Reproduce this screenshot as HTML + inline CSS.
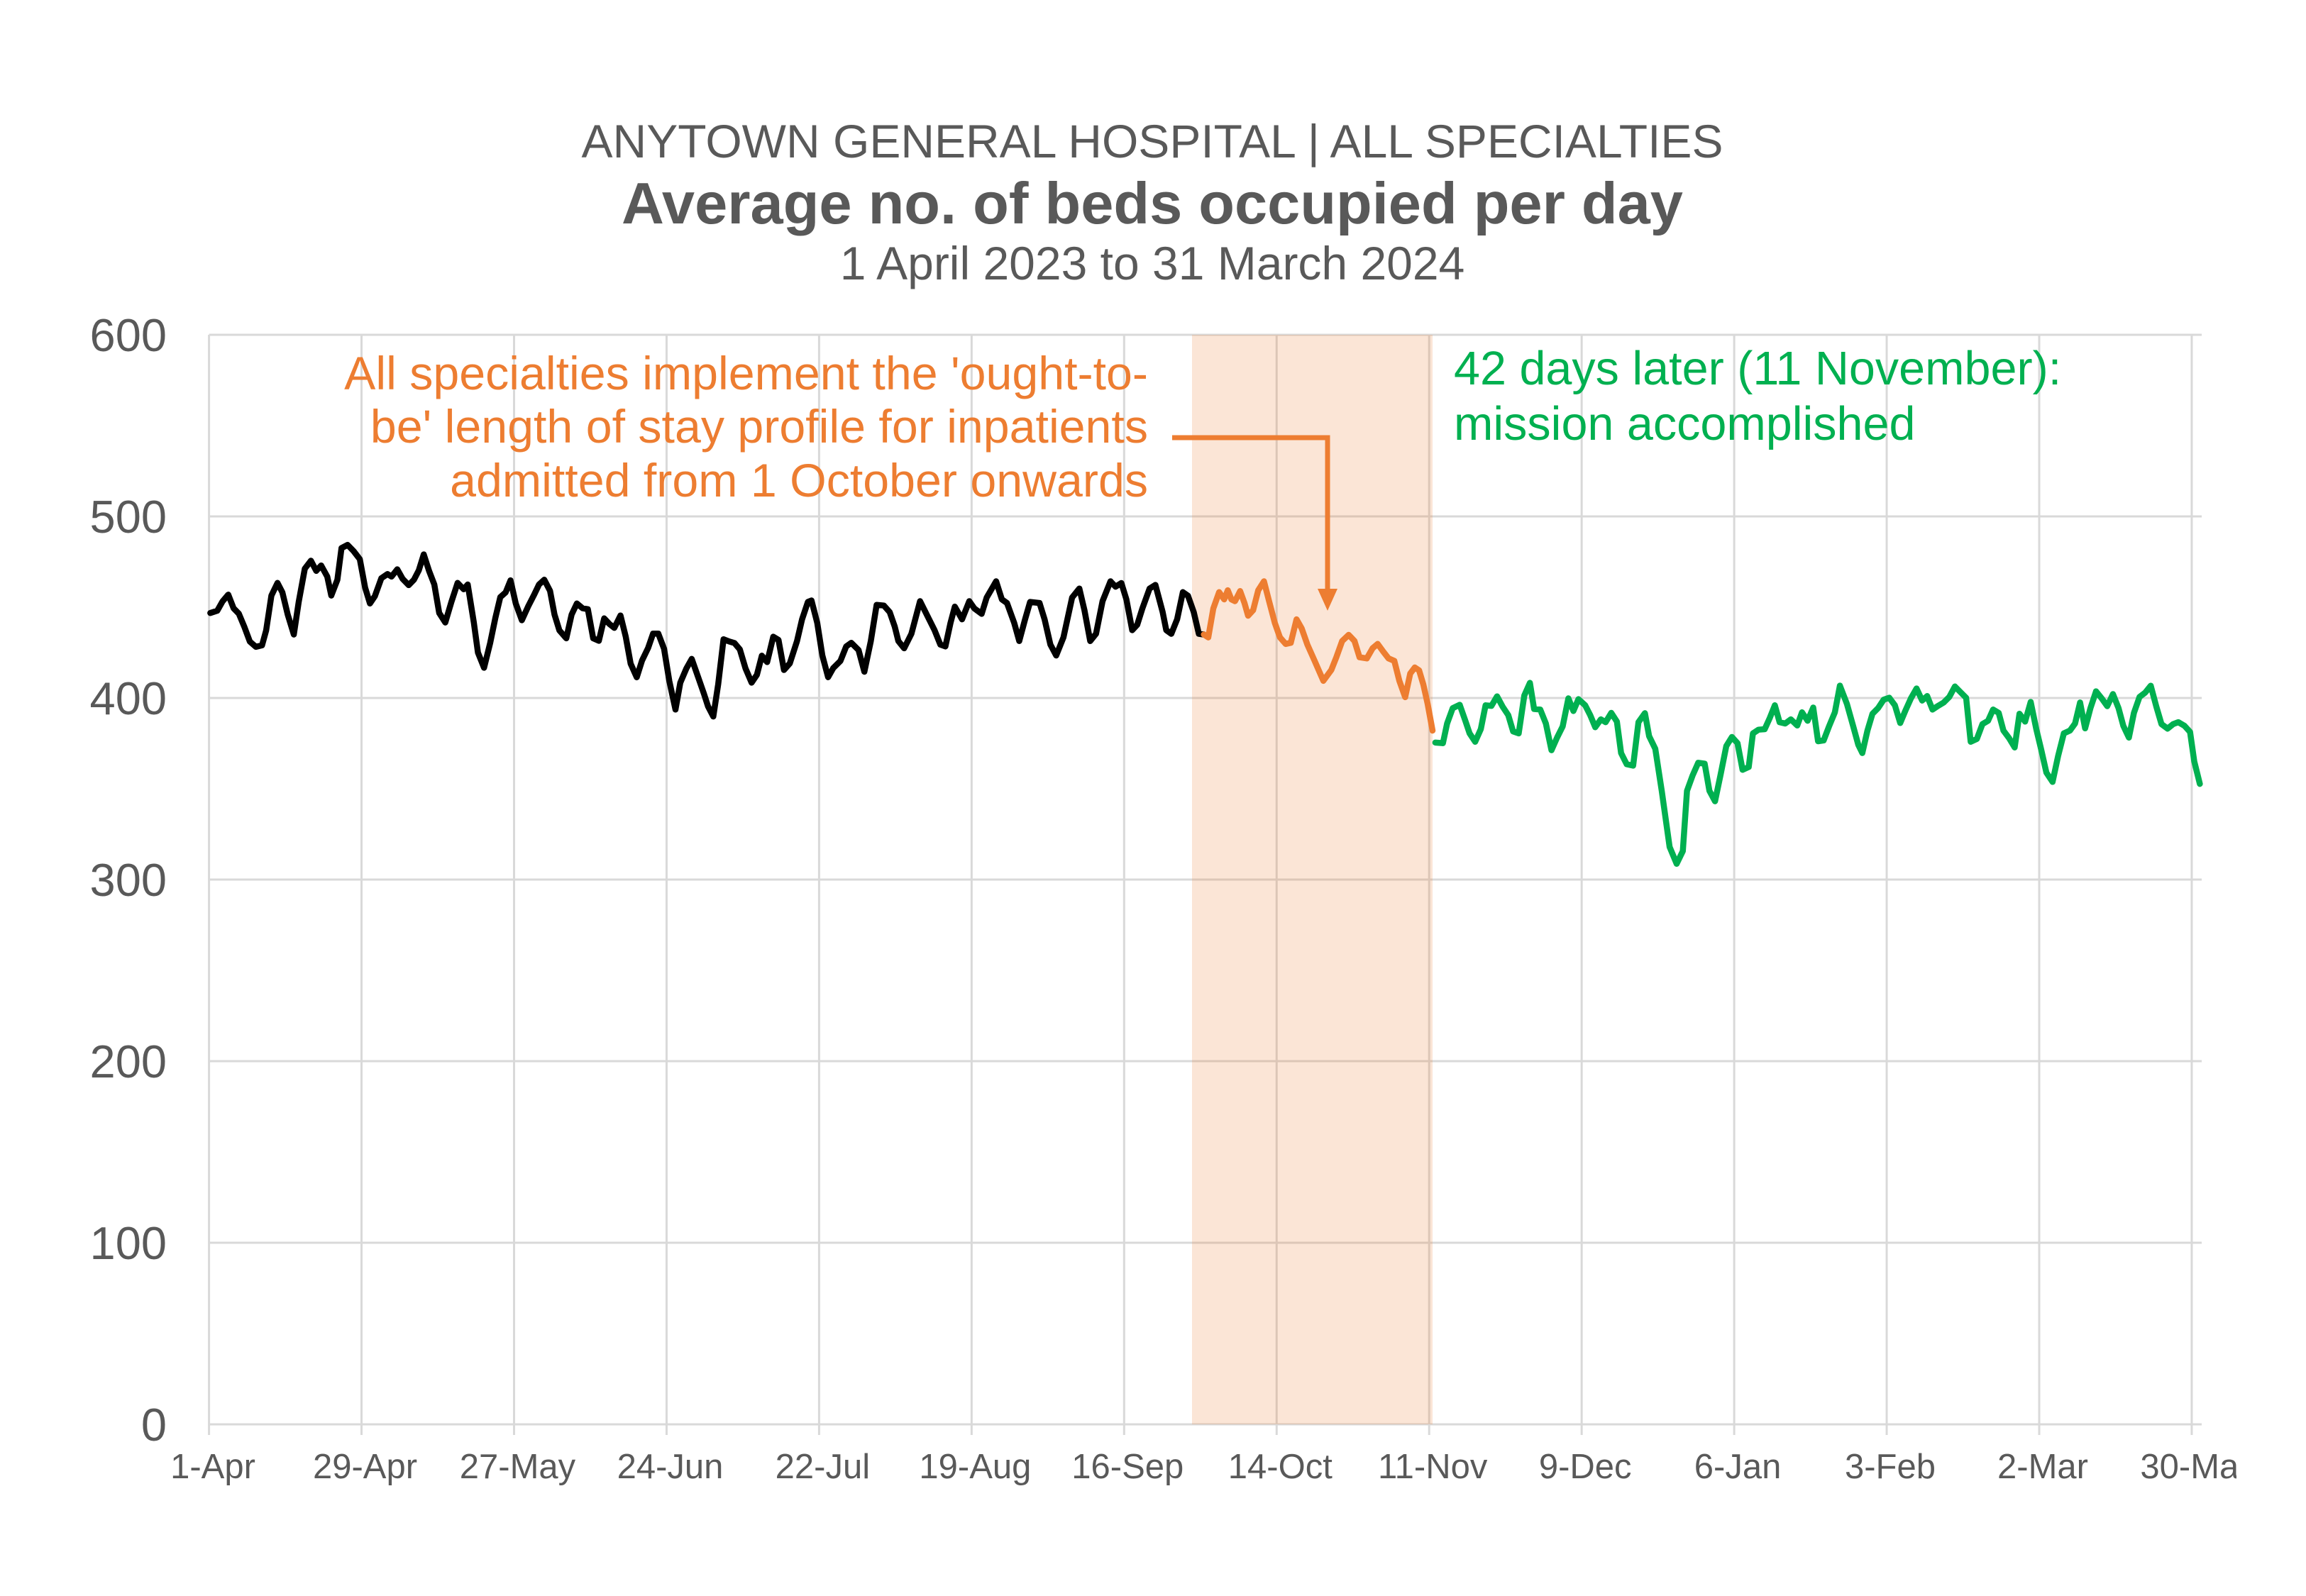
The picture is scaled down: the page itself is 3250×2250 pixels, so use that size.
<!DOCTYPE html>
<html>
<head>
<meta charset="utf-8">
<style>
html,body{margin:0;padding:0;background:#fff;}
svg{display:block;}
text{font-family:"Liberation Sans",Arial,sans-serif;}
</style>
</head>
<body>
<svg width="3250" height="2250" viewBox="0 0 3250 2250" xmlns="http://www.w3.org/2000/svg">
<defs>
<clipPath id="clipR"><rect x="0" y="0" width="3152" height="2250"/></clipPath>
</defs>
<rect width="3250" height="2250" fill="#fff"/>

<!-- Titles -->
<text x="1624" y="222" font-size="66" fill="#595959" text-anchor="middle">ANYTOWN GENERAL HOSPITAL | ALL SPECIALTIES</text>
<text x="1624" y="315" font-size="83" font-weight="bold" fill="#595959" text-anchor="middle">Average no. of beds occupied per day</text>
<text x="1624" y="394" font-size="66" fill="#595959" text-anchor="middle">1 April 2023 to 31 March 2024</text>

<!-- Horizontal gridlines -->
<g stroke="#d9d9d9" stroke-width="3">
<line x1="294.6" y1="472" x2="3103" y2="472"/>
<line x1="294.6" y1="728" x2="3103" y2="728"/>
<line x1="294.6" y1="984" x2="3103" y2="984"/>
<line x1="294.6" y1="1240" x2="3103" y2="1240"/>
<line x1="294.6" y1="1496" x2="3103" y2="1496"/>
<line x1="294.6" y1="1752" x2="3103" y2="1752"/>
<line x1="294.6" y1="2008" x2="3103" y2="2008"/>
</g>
<!-- Vertical gridlines -->
<g stroke="#d9d9d9" stroke-width="3">
<line x1="294.6" y1="472" x2="294.6" y2="2023"/>
<line x1="509.55" y1="472" x2="509.55" y2="2023"/>
<line x1="724.5" y1="472" x2="724.5" y2="2023"/>
<line x1="939.45" y1="472" x2="939.45" y2="2023"/>
<line x1="1154.4" y1="472" x2="1154.4" y2="2023"/>
<line x1="1369.35" y1="472" x2="1369.35" y2="2023"/>
<line x1="1584.3" y1="472" x2="1584.3" y2="2023"/>
<line x1="1799.25" y1="472" x2="1799.25" y2="2023"/>
<line x1="2014.2" y1="472" x2="2014.2" y2="2023"/>
<line x1="2229.15" y1="472" x2="2229.15" y2="2023"/>
<line x1="2444.1" y1="472" x2="2444.1" y2="2023"/>
<line x1="2659.05" y1="472" x2="2659.05" y2="2023"/>
<line x1="2874" y1="472" x2="2874" y2="2023"/>
<line x1="3088.95" y1="472" x2="3088.95" y2="2023"/>
</g>

<!-- Shaded band -->
<rect x="1680" y="472" width="339" height="1536" fill="#ED7D31" fill-opacity="0.2"/>

<!-- Y axis labels -->
<g font-size="65" fill="#595959" text-anchor="end">
<text x="235" y="495">600</text>
<text x="235" y="751">500</text>
<text x="235" y="1007">400</text>
<text x="235" y="1263">300</text>
<text x="235" y="1519">200</text>
<text x="235" y="1775">100</text>
<text x="235" y="2031">0</text>
</g>

<!-- X axis labels -->
<g font-size="49" fill="#595959" text-anchor="middle" clip-path="url(#clipR)">
<text x="300" y="2084">1-Apr</text>
<text x="514.5" y="2084">29-Apr</text>
<text x="729.5" y="2084">27-May</text>
<text x="944.5" y="2084">24-Jun</text>
<text x="1159.4" y="2084">22-Jul</text>
<text x="1374.4" y="2084">19-Aug</text>
<text x="1589.3" y="2084">16-Sep</text>
<text x="1804.3" y="2084">14-Oct</text>
<text x="2019.2" y="2084">11-Nov</text>
<text x="2234.2" y="2084">9-Dec</text>
<text x="2449.1" y="2084">6-Jan</text>
<text x="2664" y="2084">3-Feb</text>
<text x="2879" y="2084">2-Mar</text>
<text x="3094" y="2084">30-Mar</text>
</g>

<!-- Series -->
<g fill="none" stroke-width="8.5" stroke-linejoin="round" stroke-linecap="round">
<polyline stroke="#000000" points="296.4,864.2 306.2,861.0 313.7,847.7 321.7,838.3 329.2,857.5 336.6,865.1 344.6,884.3 352.1,904.4 360.7,911.9 369.3,909.7 375.1,888.7 382.5,839.6 391.1,821.8 398.0,835.2 405.5,866.4 414.1,894.5 421.0,848.5 429.6,801.7 438.2,790.5 445.7,804.8 452.6,797.2 461.2,812.8 466.9,839.6 475.5,817.3 481.3,772.7 489.9,768.2 498.5,777.1 507.1,788.3 514.6,828.5 521.4,850.8 528.3,840.5 537.5,815.1 546.1,809.3 551.9,812.8 559.9,802.6 567.4,816.0 576.0,824.9 583.4,817.3 590.3,803.9 597.2,781.6 604.7,804.8 612.1,824.0 619.0,864.2 627.6,877.6 636.2,848.5 644.9,821.8 653.5,830.7 659.2,824.0 667.8,877.6 673.6,920.0 682.2,941.4 690.8,906.6 698.2,870.9 705.1,841.8 712.6,835.2 719.5,818.2 726.9,850.8 735.5,874.4 744.2,855.2 752.2,839.6 759.7,824.0 767.1,817.3 775.2,832.9 781.5,866.4 788.4,888.7 798.1,899.9 805.6,866.4 813.0,850.8 821.1,857.5 828.5,858.8 836.0,899.9 844.0,903.4 851.5,871.8 859.0,879.8 865.8,885.1 874.5,867.7 881.9,897.6 888.8,935.6 897.4,954.8 904.9,931.1 913.5,913.3 920.4,893.2 927.8,893.2 935.9,914.6 943.3,960.1 952.0,1000.3 958.8,962.4 967.4,942.3 974.9,928.9 983.5,953.4 992.1,978.0 997.9,995.9 1005.3,1010.1 1012.2,964.6 1019.7,901.2 1027.7,904.3 1035.2,906.6 1042.7,915.5 1050.7,942.3 1059.3,962.4 1066.8,951.2 1073.7,924.4 1081.2,933.4 1089.8,897.6 1097.2,902.1 1104.9,944.5 1113.1,935.3 1123.3,903.7 1130.4,873.1 1138.6,848.6 1143.7,846.5 1151.8,878.2 1159.0,924.1 1167.1,954.7 1174.3,941.9 1184.5,931.7 1192.6,911.3 1199.8,906.2 1210.0,916.4 1218.2,947.0 1227.3,903.7 1235.5,852.7 1245.7,853.7 1253.9,862.9 1261.0,883.3 1266.1,903.7 1274.3,913.9 1284.5,893.5 1296.7,847.5 1306.9,868.0 1317.1,888.4 1325.3,908.8 1332.4,911.3 1339.6,878.2 1345.7,855.2 1355.9,873.1 1366.1,847.5 1373.3,857.8 1383.5,865.4 1390.6,842.4 1403.9,819.5 1412.0,845.0 1419.2,850.1 1429.4,878.2 1436.5,903.7 1444.7,873.1 1451.8,848.6 1465.1,850.1 1472.2,873.1 1480.4,908.8 1488.6,924.1 1498.8,898.6 1511.0,842.4 1521.2,829.7 1528.4,860.3 1536.5,903.7 1544.7,893.5 1553.9,847.5 1565.1,819.5 1572.2,827.1 1580.4,822.0 1587.5,845.0 1595.7,888.4 1602.8,880.7 1610.0,857.8 1620.2,829.7 1628.4,824.6 1638.6,862.9 1643.7,888.4 1650.8,893.5 1659.0,873.1 1667.1,834.8 1674.3,839.9 1682.4,862.9 1689.6,893.5 1696.7,894.5"/>
<polyline stroke="#ED7D31" points="1696.7,894.5 1702.9,898.6 1710.0,857.8 1718.2,834.8 1725.3,845.0 1730.4,832.2 1735.5,845.0 1740.6,847.5 1747.8,833.3 1753.9,850.1 1759.0,868.0 1766.1,860.3 1773.3,832.2 1781.4,819.5 1788.6,847.5 1796.7,878.2 1803.9,898.6 1812.0,907.8 1819.2,906.2 1827.3,873.1 1834.5,885.8 1842.6,908.8 1852.8,931.7 1865.1,959.8 1876.3,944.5 1883.4,926.6 1891.6,903.7 1900.8,895.0 1909.0,903.7 1916.1,926.6 1926.3,928.2 1934.5,913.9 1941.6,907.8 1949.8,919.0 1957.0,928.2 1965.1,931.7 1972.2,959.8 1980.4,982.8 1987.5,949.6 1994,941 2000,945 2006,965 2012,992 2019,1030"/>
<polyline stroke="#00B050" points="2022.9,1046.9 2033.6,1047.7 2039.5,1020.0 2047.4,998.3 2057.3,993.6 2065.2,1016.1 2071.2,1033.9 2079.1,1045.7 2087.0,1027.9 2093.7,994.3 2102.0,995.1 2109.9,981.7 2117.8,996.3 2125.7,1008.2 2132.5,1031.1 2140.4,1033.9 2148.3,980.5 2156.2,962.7 2162.1,999.5 2170.8,1000.3 2178.7,1020.0 2186.6,1057.6 2194.5,1039.8 2202.4,1024.0 2210.4,984.5 2217.5,1002.3 2224.6,985.7 2234.1,994.3 2241.2,1008.2 2248.3,1025.2 2256.2,1014.1 2262.9,1018.1 2270.9,1005.0 2278.8,1017.3 2284.7,1061.6 2292.6,1077.4 2301.7,1079.4 2309.2,1018.1 2318.3,1005.4 2324.2,1037.8 2332.9,1055.6 2342.0,1114.9 2353.1,1194.0 2363.0,1217.7 2371.7,1199.9 2377.6,1114.9 2385.5,1093.2 2393.4,1075.4 2402.5,1076.6 2409.2,1114.9 2417.1,1129.6 2425.1,1091.2 2433.0,1051.7 2440.9,1039.0 2448.8,1047.7 2455.9,1085.3 2464.6,1081.3 2470.5,1033.9 2478.4,1028.7 2487.1,1028.0 2494.3,1012.1 2501.4,994.3 2508.1,1018.1 2516.0,1020.0 2523.9,1014.1 2533.0,1022.8 2539.7,1004.2 2547.6,1016.1 2555.5,997.5 2562.3,1045.0 2570.2,1043.8 2578.1,1023.2 2586.0,1004.2 2593.1,966.6 2603.0,992.4 2612.1,1024.8 2619,1050 2624.7,1061.6 2631.9,1030.0 2639.0,1006.2 2646.9,998.3 2654.8,986.4 2662.7,983.7 2670.6,994.3 2678.1,1019.3 2685.2,1002.3 2693.2,984.5 2701.1,970.6 2709.0,987.6 2716.1,981.3 2723.6,1000.3 2731.5,995.1 2739.4,990.4 2747.3,982.5 2755.2,967.8 2763.1,975.8 2771.0,983.7 2777.4,1045.7 2786.1,1041.8 2794.0,1020.8 2801.9,1016.1 2809.0,1000.3 2816.9,1005.0 2823.6,1030.0 2831.5,1040.6 2839.4,1053.7 2846.2,1006.2 2854.1,1017.3 2862.0,989.6 2869.9,1028.0 2877.0,1057.6 2884.1,1089.2 2892.8,1102.3 2900.7,1065.5 2908.7,1033.9 2917.4,1029.9 2924.5,1020.0 2931.6,990.4 2938.7,1026.8 2946.2,998.3 2954.1,974.6 2962.0,984.5 2969.9,995.5 2977.9,978.5 2985.8,998.3 2992.5,1023.2 3000.4,1039.8 3007.5,1005.0 3015.4,982.5 3023.3,976.5 3031.2,966.7 3039.1,996.3 3046.3,1020.8 3054.9,1027.2 3062.8,1020.8 3070.0,1018.1 3078.7,1023.2 3086.6,1031.9 3092.5,1073.4 3100.4,1105.1"/>
</g>

<!-- Orange annotation -->
<g font-size="66.3" fill="#ED7D31" text-anchor="end">
<text x="1618" y="549">All specialties implement the 'ought-to-</text>
<text x="1618" y="624">be' length of stay profile for inpatients</text>
<text x="1618" y="700">admitted from 1 October onwards</text>
</g>
<!-- Arrow -->
<polyline points="1652,617 1871,617 1871,832" fill="none" stroke="#ED7D31" stroke-width="7"/>
<polygon points="1857,830 1885,830 1871,861" fill="#ED7D31"/>

<!-- Green annotation -->
<g font-size="66.5" fill="#00B050">
<text x="2049" y="542">42 days later (11 November):</text>
<text x="2049" y="620">mission accomplished</text>
</g>
</svg>
</body>
</html>
